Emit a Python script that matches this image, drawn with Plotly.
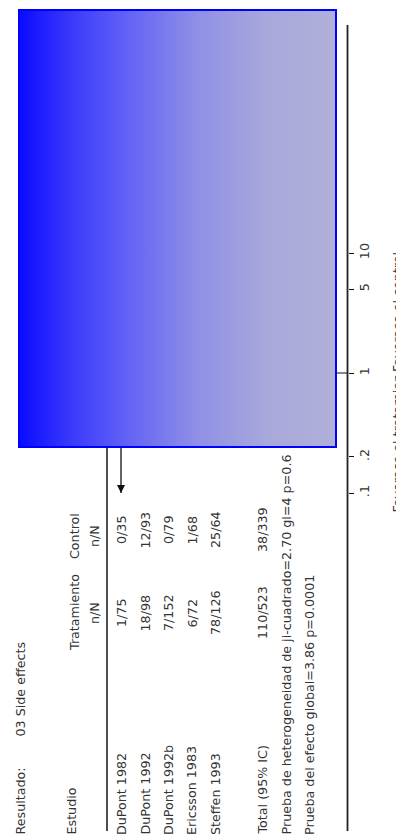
import base64
import math
import plotly.graph_objects as go

# ---------------- data ----------------
outcome_label = "Resultado:"
outcome_name = "03 Side effects"
col_headers = ["Estudio", "Tratamiento", "Control"]
col_sub = "n/N"
studies = ["DuPont 1982", "DuPont 1992", "DuPont 1992b", "Ericsson 1983", "Steffen 1993"]
treat_nN = ["1/75", "18/98", "7/152", "6/72", "78/126"]
ctrl_nN = ["0/35", "12/93", "0/79", "1/68", "25/64"]
rr = [1.42, 1.42, 7.80, 5.67, 1.58]
ci_low = [0.06, 0.73, 0.45, 0.70, 1.12]
ci_high = [34.0, 2.78, 135.0, 45.8, 2.24]
weight = [1.5, 27.0, 1.4, 2.3, 67.8]
total_label = "Total (95% IC)"
total_treat = "110/523"
total_ctrl = "38/339"
total_rr = 1.61
total_low = 1.27
total_high = 2.04
het_text = "Prueba de heterogeneidad de ji-cuadrado=2.70 gl=4 p=0.6"
overall_text = "Prueba del efecto global=3.86 p=0.0001"
tick_vals = [0.1, 0.2, 1, 5, 10]
tick_text = [".1", ".2", "1", "5", "10"]
axis_left_label = "Favorece el tratamien"
axis_right_label = "Favorece el control"
null_value = 1

# ---------------- layout constants (pixels) ----------------
W, H = 404, 834
ROW0, STEP = 113.0, 23.5          # x pixel of first study row, row spacing
PX_LO, PX_HI = 485.0, 245.0       # y pixel of RR=0.1 and RR=10
AXIS_X = 339.5
RULE_X = 99.0
LINE_TOP, LINE_BOT = 17.0, 823.0
HEAD1_X, HEAD2_X = 66.0, 86.0
TREAT_Y, CTRL_Y, CTRL_HEAD_Y = 605.0, 522.0, 528.0
START_Y = 828.0

dec = (PX_LO - PX_HI) / 2.0
log_bottom = -1 - (H - PX_LO) / dec
log_top = -1 + PX_LO / dec

def row_of_px(px):
    return (px - ROW0) / STEP

FAM = "DejaVu Sans, Liberation Sans, Arial, sans-serif"
FONT = dict(family=FAM, size=12.7, color="#333333")

fig = go.Figure()

# line of no effect
fig.add_trace(go.Scatter(x=[row_of_px(RULE_X), row_of_px(AXIS_X)], y=[null_value, null_value],
                         mode="lines", line=dict(color="#111", width=1.2),
                         hoverinfo="skip", showlegend=False))

# study CIs
lo_axis, hi_axis = tick_vals[0], tick_vals[-1]
for i in range(len(studies)):
    lo = max(ci_low[i], lo_axis)
    hi = min(ci_high[i], hi_axis)
    fig.add_trace(go.Scatter(x=[i, i], y=[lo, hi], mode="lines", line=dict(color="#111", width=1.3),
                             hoverinfo="skip", showlegend=False))
    if ci_low[i] < lo_axis:
        fig.add_trace(go.Scatter(x=[i], y=[lo_axis], mode="markers",
                                 marker=dict(symbol="arrow-down", size=8, color="#111"),
                                 hoverinfo="skip", showlegend=False))
    if ci_high[i] > hi_axis:
        fig.add_trace(go.Scatter(x=[i], y=[hi_axis], mode="markers",
                                 marker=dict(symbol="arrow-up", size=8, color="#111"),
                                 hoverinfo="skip", showlegend=False))
fig.add_trace(go.Scatter(x=list(range(len(studies))), y=rr, mode="markers",
                         marker=dict(symbol="square", color="#111", size=[4 + w ** 0.5 for w in weight]),
                         hoverinfo="skip", showlegend=False))
# total diamond
t_row = len(studies) + 1
fig.add_trace(go.Scatter(x=[t_row, t_row - 0.3, t_row, t_row + 0.3, t_row],
                         y=[total_low, total_rr, total_high, total_rr, total_low],
                         mode="lines", fill="toself", fillcolor="#111", line=dict(color="#111", width=1),
                         hoverinfo="skip", showlegend=False))

# ---------------- annotations ----------------
anns = []
def txt(text, x, y, yanchor, xref="x2", yref="y2", font=FONT):
    anns.append(dict(text=text, x=x, y=y, xref=xref, yref=yref, textangle=-90,
                     xanchor="center", yanchor=yanchor, showarrow=False, font=font,
                     borderpad=0))

txt(outcome_label, 12, START_Y, "bottom")
txt(outcome_name, 12, 730, "bottom")
txt(col_headers[0], HEAD1_X - 3, START_Y, "bottom")
txt(col_headers[1], HEAD1_X, TREAT_Y, "middle")
txt(col_sub, HEAD2_X, TREAT_Y, "middle")
txt(col_headers[2], HEAD1_X, CTRL_HEAD_Y, "middle")
txt(col_sub, HEAD2_X, CTRL_HEAD_Y, "middle")
for i in range(len(studies)):
    txt(studies[i], i, START_Y, "bottom", xref="x")
    txt(treat_nN[i], i, TREAT_Y, "middle", xref="x")
    txt(ctrl_nN[i], i, CTRL_Y, "middle", xref="x")
txt(total_label, t_row, START_Y, "bottom", xref="x")
txt(total_treat, t_row, TREAT_Y, "middle", xref="x")
txt(total_ctrl, t_row, CTRL_Y, "middle", xref="x")
txt(het_text, t_row + 1, START_Y, "bottom", xref="x")
txt(overall_text, t_row + 2, START_Y, "bottom", xref="x")
txt(axis_left_label, 389, math.log10(null_value), "top", yref="y")
txt(axis_right_label, 389, math.log10(null_value), "bottom", yref="y")

# ---------------- gradient overlay box ----------------
svg = ('<svg xmlns="http://www.w3.org/2000/svg" width="319" height="439" viewBox="0 0 319 439" '
       'preserveAspectRatio="none"><defs><linearGradient id="g" x1="0" y1="0" x2="1" y2="0">'
       '<stop offset="0" stop-color="#0a0aff"/><stop offset="0.17" stop-color="#3b3bfc"/>'
       '<stop offset="0.345" stop-color="#6363f6"/><stop offset="0.56" stop-color="#8f8fe6"/>'
       '<stop offset="0.78" stop-color="#a8a8dc"/><stop offset="1" stop-color="#b0b0da"/>'
       '</linearGradient></defs><rect x="1" y="1" width="317" height="437" fill="url(#g)" '
       'stroke="#0000ff" stroke-width="2"/></svg>')
src = "data:image/svg+xml;base64," + base64.b64encode(svg.encode()).decode()

fig.update_layout(
    width=W, height=H, margin=dict(l=0, r=0, t=0, b=0),
    paper_bgcolor="white", plot_bgcolor="rgba(0,0,0,0)",
    showlegend=False,
    xaxis=dict(range=[row_of_px(0), row_of_px(W)], domain=[0, 1], visible=False, fixedrange=True),
    yaxis=dict(type="log", range=[log_bottom, log_top], domain=[0, 1], anchor="free",
               position=AXIS_X / W, side="right", ticks="outside", ticklen=5, tickwidth=1.3,
               tickcolor="#111", tickvals=tick_vals, ticktext=tick_text, tickangle=-90,
               tickfont=dict(family=FAM, size=12.7, color="#333333"),
               showline=False, showgrid=False, zeroline=False, fixedrange=True),
    xaxis2=dict(range=[0, W], overlaying="x", visible=False, fixedrange=True),
    yaxis2=dict(range=[H, 0], overlaying="y", visible=False, anchor="x2", fixedrange=True),
    annotations=anns,
    shapes=[
        dict(type="line", xref="x2", yref="y2", x0=RULE_X, x1=RULE_X, y0=LINE_TOP, y1=LINE_BOT,
             line=dict(color="#222", width=1.6), layer="below"),
        dict(type="line", xref="x2", yref="y2", x0=AXIS_X, x1=AXIS_X, y0=LINE_TOP, y1=LINE_BOT,
             line=dict(color="#222", width=1.8), layer="below"),
    ],
    images=[dict(source=src, xref="paper", yref="paper", x=10 / W, y=1 - 1 / H,
                 sizex=319 / W, sizey=439 / H, sizing="stretch", xanchor="left", yanchor="top",
                 layer="above")],
)
# invisible anchor trace on overlay axes so they are rendered
fig.add_trace(go.Scatter(x=[0], y=[0], xaxis="x2", yaxis="y2", mode="markers",
                         marker=dict(opacity=0), hoverinfo="skip", showlegend=False))

fig.write_html("out.html")
